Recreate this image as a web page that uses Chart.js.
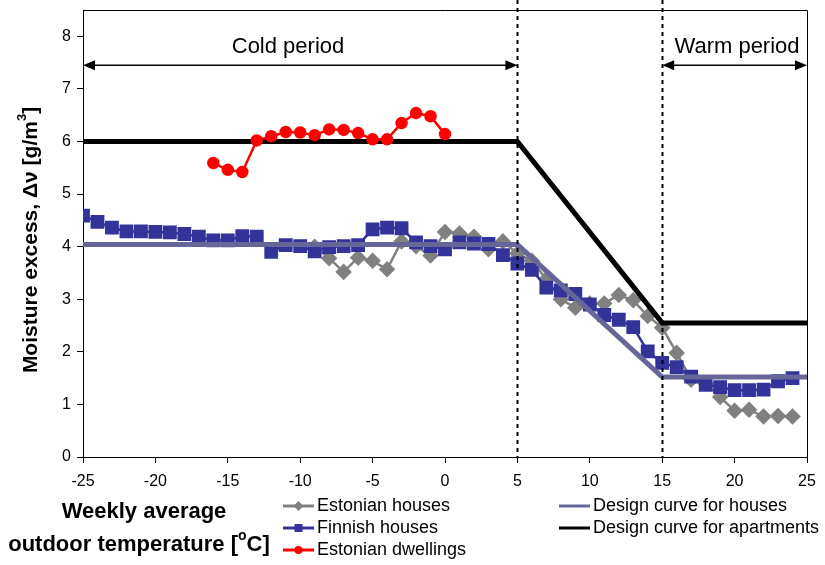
<!DOCTYPE html>
<html>
<head>
<meta charset="utf-8">
<script src="https://cdn.jsdelivr.net/npm/chart.js@4"></script>
<style>
  body { margin: 0; background: #fff; }
  #wrap { width: 825px; height: 565px; }
</style>
</head>
<body>
<div id="wrap"><canvas id="moistureChart" width="825" height="565"></canvas></div>
<script>
// data
var estHouseX = [-9,-8,-7,-6,-5,-4,-3,-2,-1,0,1,2,3,4,5,6,7,8,9,10,11,12,13,14,15,16,17,18,19,20,21,22,23,24];
var estHouseY = [4.0,3.78,3.52,3.79,3.73,3.57,4.1,4.01,3.83,4.28,4.25,4.19,3.95,4.1,3.87,3.73,3.38,3.0,2.84,2.92,2.92,3.08,2.98,2.68,2.46,1.98,1.47,1.4,1.14,0.88,0.9,0.77,0.78,0.77];

var finHouseX = [-25,-24,-23,-22,-21,-20,-19,-18,-17,-16,-15,-14,-13,-12,-11,-10,-9,-8,-7,-6,-5,-4,-3,-2,-1,0,1,2,3,4,5,6,7,8,9,10,11,12,13,14,15,16,17,18,19,20,21,22,23,24];
var finHouseY = [4.59,4.47,4.36,4.29,4.29,4.28,4.27,4.24,4.19,4.12,4.12,4.2,4.19,3.9,4.03,4.01,3.91,3.99,4.01,4.03,4.33,4.36,4.35,4.08,4.01,3.95,4.08,4.06,4.05,3.84,3.68,3.56,3.22,3.17,3.1,2.9,2.7,2.61,2.47,2.01,1.79,1.71,1.53,1.37,1.33,1.27,1.27,1.28,1.44,1.5];

var estDwellX = [-16,-15,-14,-13,-12,-11,-10,-9,-8,-7,-6,-5,-4,-3,-2,-1,0];
var estDwellY = [5.59,5.46,5.42,6.02,6.1,6.18,6.17,6.12,6.23,6.22,6.16,6.04,6.04,6.35,6.54,6.48,6.14];

var designHouseX = [-25, 5, 15, 25];
var designHouseY = [4.04, 4.04, 1.52, 1.52];
var designAptX = [-25, 5, 15, 25];
var designAptY = [6.0, 6.0, 2.55, 2.55];

var xTicks = [-25, -20, -15, -10, -5, 0, 5, 10, 15, 20, 25];
var periodBounds = [5, 15];

function pts(xs, ys) {
  return xs.map(function(x, i) { return { x: x, y: ys[i] }; });
}

var font = '"Liberation Sans", Arial, sans-serif';

// frame, period lines, arrows, titles, legend
var extras = {
  id: 'extras',
  afterDraw: function(chart) {
    var ctx = chart.ctx, a = chart.chartArea;
    var xs = chart.scales.x, ys = chart.scales.y;
    ctx.save();

    // box around plot
    ctx.strokeStyle = '#000';
    ctx.lineWidth = 1;
    ctx.beginPath();
    ctx.moveTo(a.left, a.top + 0.5);
    ctx.lineTo(a.right + 0.5, a.top + 0.5);
    ctx.lineTo(a.right + 0.5, a.bottom);
    ctx.stroke();

    // dotted period boundaries
    ctx.setLineDash([4, 4]);
    ctx.lineWidth = 2;
    periodBounds.forEach(function(v) {
      var px = Math.round(xs.getPixelForValue(v)) + 0.5;
      ctx.beginPath();
      ctx.moveTo(px, 0);
      ctx.lineTo(px, a.bottom);
      ctx.stroke();
    });
    ctx.setLineDash([]);

    // arrows
    var ay = ys.getPixelForValue(7.45);
    function arrow(x1, x2) {
      ctx.lineWidth = 1.5;
      ctx.beginPath();
      ctx.moveTo(x1 + 8, ay);
      ctx.lineTo(x2 - 8, ay);
      ctx.stroke();
      ctx.beginPath();
      ctx.moveTo(x1, ay); ctx.lineTo(x1 + 12, ay - 5); ctx.lineTo(x1 + 12, ay + 5); ctx.closePath();
      ctx.moveTo(x2, ay); ctx.lineTo(x2 - 12, ay - 5); ctx.lineTo(x2 - 12, ay + 5); ctx.closePath();
      ctx.fill();
    }
    ctx.fillStyle = '#000';
    arrow(xs.getPixelForValue(-25), xs.getPixelForValue(5));
    arrow(xs.getPixelForValue(15), xs.getPixelForValue(25));

    ctx.font = '22px ' + font;
    ctx.textAlign = 'center';
    ctx.textBaseline = 'middle';
    ctx.fillText('Cold period', 288, 47);
    ctx.fillText('Warm period', 737, 47);

    // y title
    ctx.save();
    ctx.translate(31, 240);
    ctx.rotate(-Math.PI / 2);
    ctx.font = 'bold 21px ' + font;
    var t1 = 'Moisture excess, \u0394\u03bd [g/m';
    var w1 = ctx.measureText(t1).width;
    ctx.font = 'bold 13px ' + font;
    var w2 = ctx.measureText('3').width;
    ctx.font = 'bold 21px ' + font;
    var w3 = ctx.measureText(']').width;
    var sx = -(w1 + w2 + w3) / 2;
    ctx.textAlign = 'left';
    ctx.fillText(t1, sx, 0);
    ctx.font = 'bold 13px ' + font;
    ctx.fillText('3', sx + w1, -9);
    ctx.font = 'bold 21px ' + font;
    ctx.fillText(']', sx + w1 + w2, 0);
    ctx.restore();

    // x title
    ctx.font = 'bold 22px ' + font;
    ctx.textAlign = 'center';
    ctx.fillText('Weekly average', 144, 512);
    var p1 = 'outdoor temperature [', p3 = 'C]';
    var q1 = ctx.measureText(p1).width, q3 = ctx.measureText(p3).width;
    ctx.font = 'bold 14px ' + font;
    var q2 = ctx.measureText('o').width;
    var bx = 139 - (q1 + q2 + q3) / 2;
    ctx.textAlign = 'left';
    ctx.font = 'bold 22px ' + font;
    ctx.fillText(p1, bx, 545);
    ctx.font = 'bold 14px ' + font;
    ctx.fillText('o', bx + q1, 536);
    ctx.font = 'bold 22px ' + font;
    ctx.fillText(p3, bx + q1 + q2, 545);

    // legend
    var items = [
      { ds: 0, x: 283, y: 506 },
      { ds: 1, x: 283, y: 528 },
      { ds: 2, x: 283, y: 550 },
      { ds: 3, x: 559, y: 506 },
      { ds: 4, x: 559, y: 528 }
    ];
    ctx.font = '18px ' + font;
    ctx.textAlign = 'left';
    items.forEach(function(it) {
      var d = chart.data.datasets[it.ds];
      ctx.strokeStyle = d.borderColor;
      ctx.lineWidth = 3;
      ctx.beginPath();
      ctx.moveTo(it.x, it.y);
      ctx.lineTo(it.x + 31, it.y);
      ctx.stroke();
      if (d.pointRadius) {
        ctx.fillStyle = d.pointBackgroundColor;
        var cx = it.x + 15.5, r = 5;
        ctx.beginPath();
        if (d.pointStyle === 'rectRot') {
          ctx.moveTo(cx - r, it.y); ctx.lineTo(cx, it.y - r); ctx.lineTo(cx + r, it.y); ctx.lineTo(cx, it.y + r);
        } else if (d.pointStyle === 'rect') {
          ctx.rect(cx - 4, it.y - 4, 8, 8);
        } else {
          ctx.arc(cx, it.y, 4, 0, Math.PI * 2);
        }
        ctx.fill();
      }
      ctx.fillStyle = '#000';
      ctx.fillText(d.label, it.x + 34, it.y);
    });

    ctx.restore();
  }
};

window.onload = function() {
  var chartArea = document.getElementById('moistureChart').getContext('2d');
  var myChart = new Chart(chartArea, {
    type: 'line',
    data: {
      datasets: [{
        label: 'Estonian houses',
        data: pts(estHouseX, estHouseY),
        borderColor: '#808080',
        backgroundColor: '#808080',
        pointBackgroundColor: '#808080',
        pointBorderColor: '#808080',
        pointStyle: 'rectRot',
        pointRadius: 6.5,
        borderWidth: 2.5,
        order: 4
      }, {
        label: 'Finnish houses',
        data: pts(finHouseX, finHouseY),
        borderColor: '#333399',
        backgroundColor: '#333399',
        pointBackgroundColor: '#333399',
        pointBorderColor: '#333399',
        pointStyle: 'rect',
        pointRadius: 8,
        borderWidth: 2.5,
        order: 3
      }, {
        label: 'Estonian dwellings',
        data: pts(estDwellX, estDwellY),
        borderColor: '#ff0000',
        backgroundColor: '#ff0000',
        pointBackgroundColor: '#ff0000',
        pointBorderColor: '#ff0000',
        pointStyle: 'circle',
        pointRadius: 5,
        borderWidth: 2.5,
        order: 0
      }, {
        label: 'Design curve for houses',
        data: pts(designHouseX, designHouseY),
        borderColor: '#666699',
        pointRadius: 0,
        borderWidth: 5,
        order: 2
      }, {
        label: 'Design curve for apartments',
        data: pts(designAptX, designAptY),
        borderColor: '#000000',
        pointRadius: 0,
        borderWidth: 5,
        order: 1
      }]
    },
    options: {
      responsive: false,
      animation: false,
      layout: { autoPadding: false, padding: { top: 10, right: 18, left: 0, bottom: 0 } },
      elements: { line: { tension: 0 }, point: { borderWidth: 1, hoverRadius: 6 } },
      plugins: {
        legend: { display: false },
        title: { display: false },
        tooltip: { enabled: false }
      },
      scales: {
        x: {
          type: 'linear',
          min: -25,
          max: 25,
          afterBuildTicks: function(s) { s.ticks = xTicks.map(function(v) { return { value: v }; }); },
          afterFit: function(s) { s.height = 108; s.paddingLeft = 0; s.paddingRight = 0; },
          grid: { drawOnChartArea: false, drawTicks: true, tickLength: 6, color: '#000' },
          border: { color: '#000', width: 1 },
          ticks: { color: '#000', font: { family: font, size: 16 }, padding: 9, maxRotation: 0 }
        },
        y: {
          min: 0,
          max: 8.5,
          afterBuildTicks: function(s) { s.ticks = s.ticks.filter(function(t) { return t.value <= 8 && Number.isInteger(t.value); }); },
          afterFit: function(s) { s.width = 83; s.paddingTop = 0; s.paddingBottom = 0; },
          grid: { drawOnChartArea: false, drawTicks: true, tickLength: 6, color: '#000' },
          border: { color: '#000', width: 1 },
          ticks: { stepSize: 1, color: '#000', font: { family: font, size: 16 }, padding: 6 }
        }
      }
    },
    plugins: [extras]
  });
};
</script>
</body>
</html>
